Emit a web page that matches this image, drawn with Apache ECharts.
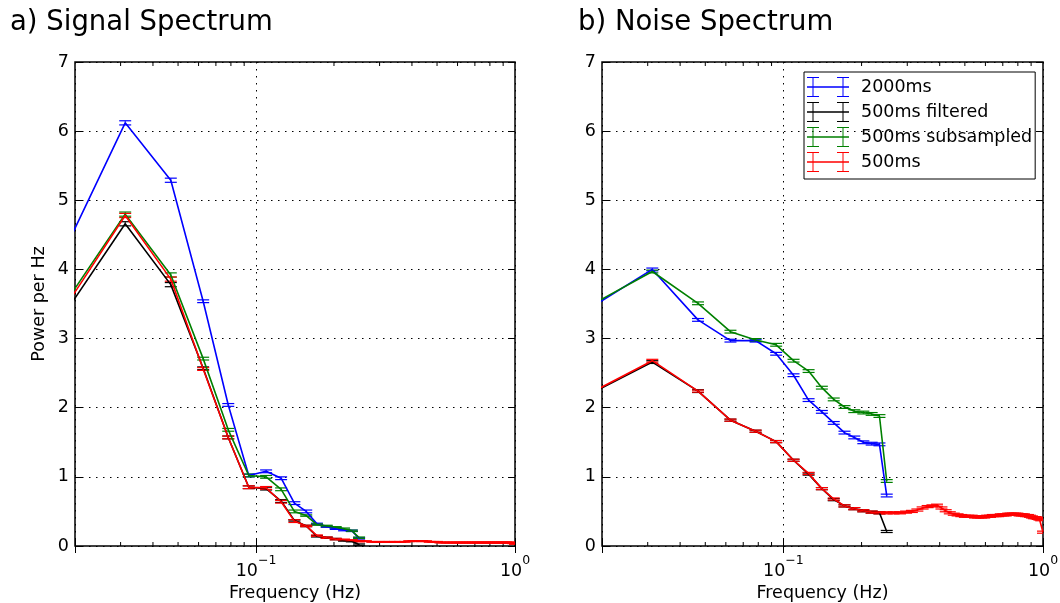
<!DOCTYPE html>
<html><head><meta charset="utf-8">
<script src="https://cdn.jsdelivr.net/npm/echarts@6/dist/echarts.min.js"></script>
<style>html,body{margin:0;padding:0;background:#fff}#c{width:1060px;height:603px}</style>
</head><body><div id="c"></div>
<script>
// Frequencies (Hz)
const freq = [
  0.015625, 0.03125, 0.046875, 0.0625, 0.078125, 0.09375, 0.109375, 0.125,
  0.140625, 0.15625, 0.171875, 0.1875, 0.203125, 0.21875, 0.234375, 0.25,
  0.265625, 0.28125, 0.296875, 0.3125, 0.328125, 0.34375, 0.359375, 0.375,
  0.390625, 0.40625, 0.421875, 0.4375, 0.453125, 0.46875, 0.484375, 0.5,
  0.515625, 0.53125, 0.546875, 0.5625, 0.578125, 0.59375, 0.609375, 0.625,
  0.640625, 0.65625, 0.671875, 0.6875, 0.703125, 0.71875, 0.734375, 0.75,
  0.765625, 0.78125, 0.796875, 0.8125, 0.828125, 0.84375, 0.859375, 0.875,
  0.890625, 0.90625, 0.921875, 0.9375, 0.953125, 0.96875, 0.984375, 1.0
];
const freqShort = [
  0.015625, 0.03125, 0.046875, 0.0625, 0.078125, 0.09375, 0.109375, 0.125,
  0.140625, 0.15625, 0.171875, 0.1875, 0.203125, 0.21875, 0.234375, 0.25
];
const seriesNames = ['2000ms', '500ms filtered', '500ms subsampled', '500ms'];

// a) Signal spectrum
const signal2000 = [3.75, 6.12, 5.29, 3.54, 2.04, 1.02, 1.08, 0.98, 0.62, 0.50, 0.32, 0.28, 0.25, 0.23, 0.22, 0.11];
const signal2000Err = [0.03, 0.03, 0.03, 0.02, 0.02, 0.02, 0.02, 0.02, 0.02, 0.02, 0.01, 0.01, 0.01, 0.01, 0.01, 0.01];
const signalFiltered = [2.99, 4.66, 3.78, 2.57, 1.57, 0.85, 0.83, 0.65, 0.37, 0.29, 0.14, 0.12, 0.10, 0.08, 0.07, 0.02];
const signalFilteredErr = [0.03, 0.03, 0.03, 0.02, 0.02, 0.02, 0.02, 0.02, 0.01, 0.01, 0.01, 0.01, 0.01, 0.01, 0.01, 0.01];
const signalSub = [3.13, 4.80, 3.92, 2.71, 1.68, 1.02, 1.00, 0.82, 0.50, 0.44, 0.31, 0.29, 0.27, 0.25, 0.22, 0.12];
const signalSubErr = [0.03, 0.03, 0.03, 0.02, 0.02, 0.02, 0.02, 0.02, 0.02, 0.01, 0.01, 0.01, 0.01, 0.01, 0.01, 0.01];
const signal500 = [
  3.06, 4.78, 3.86, 2.56, 1.57, 0.85, 0.84, 0.64,
  0.36, 0.29, 0.15, 0.12, 0.10, 0.09, 0.08, 0.07,
  0.07, 0.06, 0.06, 0.06, 0.06, 0.06, 0.06, 0.06,
  0.07, 0.07, 0.07, 0.07, 0.07, 0.06, 0.06, 0.06,
  0.05, 0.05, 0.05, 0.05, 0.05, 0.05, 0.05, 0.05,
  0.05, 0.05, 0.05, 0.05, 0.05, 0.05, 0.05, 0.05,
  0.05, 0.05, 0.05, 0.05, 0.05, 0.05, 0.05, 0.05,
  0.05, 0.05, 0.05, 0.05, 0.05, 0.05, 0.04, 0.03
];
const signal500Err = [
  0.03, 0.03, 0.03, 0.02, 0.02, 0.02, 0.02, 0.02,
  0.02, 0.01, 0.01, 0.01, 0.01, 0.01, 0.01, 0.01,
  0.005, 0.005, 0.005, 0.005, 0.005, 0.005, 0.005, 0.005,
  0.005, 0.005, 0.005, 0.005, 0.005, 0.005, 0.005, 0.005,
  0.005, 0.005, 0.005, 0.005, 0.005, 0.005, 0.005, 0.005,
  0.005, 0.005, 0.005, 0.005, 0.005, 0.005, 0.005, 0.005,
  0.005, 0.005, 0.005, 0.005, 0.005, 0.005, 0.005, 0.005,
  0.005, 0.005, 0.005, 0.005, 0.005, 0.005, 0.005, 0.005
];

// b) Noise spectrum
const noise2000 = [3.30, 4.00, 3.27, 2.97, 2.97, 2.78, 2.47, 2.11, 1.94, 1.78, 1.64, 1.57, 1.50, 1.48, 1.47, 0.73];
const noise2000Err = [0.02, 0.02, 0.02, 0.02, 0.02, 0.02, 0.02, 0.02, 0.02, 0.02, 0.02, 0.02, 0.02, 0.02, 0.02, 0.02];
const noiseFiltered = [2.08, 2.66, 2.24, 1.82, 1.66, 1.51, 1.24, 1.04, 0.83, 0.67, 0.58, 0.54, 0.51, 0.49, 0.48, 0.21];
const noiseFilteredErr = [0.02, 0.02, 0.02, 0.015, 0.015, 0.015, 0.015, 0.015, 0.015, 0.015, 0.015, 0.015, 0.015, 0.015, 0.015, 0.015];
const noiseSub = [3.35, 3.97, 3.51, 3.10, 2.98, 2.91, 2.68, 2.53, 2.29, 2.12, 2.01, 1.95, 1.93, 1.91, 1.88, 0.94];
const noiseSubErr = [0.02, 0.02, 0.02, 0.02, 0.02, 0.02, 0.02, 0.02, 0.02, 0.02, 0.02, 0.02, 0.02, 0.02, 0.02, 0.02];
const noise500 = [
  2.09, 2.68, 2.24, 1.82, 1.66, 1.51, 1.24, 1.05,
  0.83, 0.68, 0.58, 0.54, 0.51, 0.49, 0.48, 0.48,
  0.48, 0.48, 0.49, 0.50, 0.52, 0.55, 0.57, 0.58,
  0.59, 0.55, 0.51, 0.48, 0.46, 0.45, 0.44, 0.43,
  0.43, 0.43, 0.42, 0.42, 0.42, 0.42, 0.43, 0.43,
  0.44, 0.44, 0.44, 0.45, 0.45, 0.45, 0.46, 0.46,
  0.46, 0.46, 0.46, 0.45, 0.45, 0.45, 0.44, 0.44,
  0.43, 0.42, 0.41, 0.41, 0.40, 0.39, 0.38, 0.20
];
const noise500Err = [
  0.02, 0.02, 0.015, 0.015, 0.015, 0.015, 0.015, 0.015,
  0.015, 0.015, 0.015, 0.015, 0.015, 0.015, 0.015, 0.015,
  0.015, 0.015, 0.015, 0.015, 0.015, 0.015, 0.015, 0.015,
  0.015, 0.015, 0.015, 0.015, 0.015, 0.015, 0.015, 0.015,
  0.015, 0.015, 0.015, 0.015, 0.015, 0.015, 0.015, 0.015,
  0.015, 0.015, 0.015, 0.015, 0.015, 0.015, 0.015, 0.015,
  0.015, 0.015, 0.015, 0.015, 0.015, 0.015, 0.015, 0.015,
  0.015, 0.015, 0.015, 0.015, 0.015, 0.015, 0.015, 0.015
];

const minorTickValues = [0.03, 0.04, 0.05, 0.06, 0.07, 0.08, 0.09, 0.2, 0.3, 0.4, 0.5, 0.6, 0.7, 0.8, 0.9];
const yMin = 0, yMax = 7, yStep = 1;
const xMin = 0.02, xMax = 1;

const FONT = 'DejaVu Sans';
const FS = 17.5;
const COLORS = ['#0000ff', '#000000', '#008000', '#ff0000'];

function errorBarSeries(gi, name, color, xs, ys, es) {
  return {
    type: 'custom', name: name, xAxisIndex: gi * 2, yAxisIndex: gi * 2,
    clip: true, silent: true, animation: false,
    itemStyle: { color: color, borderWidth: 0 },
    encode: { x: 0, y: 1 },
    data: xs.map((x, i) => [x, ys[i], es[i]]),
    renderItem: function (params, api) {
      const x = api.value(0), y = api.value(1), e = api.value(2);
      const t = api.coord([x, y + e]);
      const b = api.coord([x, y - e]);
      const hw = 6;
      return {
        type: 'group', children: [
          { type: 'line', shape: { x1: t[0], y1: t[1], x2: b[0], y2: b[1] }, style: { stroke: color, lineWidth: 1 } },
          { type: 'line', shape: { x1: t[0] - hw, y1: t[1], x2: t[0] + hw, y2: t[1] }, style: { stroke: color, lineWidth: 1.2 } },
          { type: 'line', shape: { x1: b[0] - hw, y1: b[1], x2: b[0] + hw, y2: b[1] }, style: { stroke: color, lineWidth: 1.2 } }
        ]
      };
    }
  };
}
function lineSeries(gi, name, color, xs, ys) {
  return {
    type: 'line', name: name, xAxisIndex: gi * 2, yAxisIndex: gi * 2,
    clip: true, silent: true, animation: false, symbol: 'none', showSymbol: false,
    lineStyle: { color: color, width: 1.6 }, itemStyle: { color: color },
    data: xs.map((x, i) => [x, ys[i]])
  };
}
function minorTickSeries(gi) {
  return {
    type: 'custom', xAxisIndex: gi * 2, yAxisIndex: gi * 2, silent: true, animation: false,
    encode: { x: 0 },
    data: minorTickValues.map(v => [v]),
    renderItem: function (params, api) {
      const v = api.value(0);
      const b = api.coord([v, yMin]);
      const t = api.coord([v, yMax]);
      return {
        type: 'group', children: [
          { type: 'line', shape: { x1: b[0], y1: b[1], x2: b[0], y2: b[1] - 4 }, style: { stroke: '#000', lineWidth: 1 } },
          { type: 'line', shape: { x1: t[0], y1: t[1], x2: t[0], y2: t[1] + 4 }, style: { stroke: '#000', lineWidth: 1 } }
        ]
      };
    }
  };
}

const panels = [
  { xs: [freqShort, freqShort, freqShort, freq], ys: [signal2000, signalFiltered, signalSub, signal500], es: [signal2000Err, signalFilteredErr, signalSubErr, signal500Err] },
  { xs: [freqShort, freqShort, freqShort, freq], ys: [noise2000, noiseFiltered, noiseSub, noise500], es: [noise2000Err, noiseFilteredErr, noiseSubErr, noise500Err] }
];

const series = [];
panels.forEach((p, gi) => {
  series.push(minorTickSeries(gi));
  for (let s = 0; s < 4; s++) {
    series.push(errorBarSeries(gi, seriesNames[s], COLORS[s], p.xs[s], p.ys[s], p.es[s]));
    series.push(lineSeries(gi, seriesNames[s], COLORS[s], p.xs[s], p.ys[s]));
  }
});

const dotted = { color: '#000', width: 1, type: [1.5, 5.5] };
function xAxisBottom(gi) {
  return {
    type: 'log', logBase: 10, gridIndex: gi, min: xMin, max: xMax, position: 'bottom',
    name: 'Frequency (Hz)', nameLocation: 'middle', nameGap: 35,
    nameTextStyle: { fontSize: FS, color: '#000', fontFamily: FONT },
    axisLine: { show: false },
    axisTick: { show: true, inside: true, length: 7, lineStyle: { color: '#000', width: 1 } },
    splitLine: { show: true, lineStyle: dotted },
    axisLabel: {
      margin: 8, color: '#000', fontFamily: FONT, fontSize: FS,
      formatter: function (v) {
        const e = Math.round(Math.log10(v));
        if (Math.abs(Math.log10(v) - e) > 1e-6) return '';
        return '{b|10}{s|' + (e < 0 ? '\u2212' + (-e) : e) + '}';
      },
      rich: {
        b: { fontSize: FS, fontFamily: FONT, color: '#000', verticalAlign: 'bottom' },
        s: { fontSize: 12.5, fontFamily: FONT, color: '#000', verticalAlign: 'bottom', padding: [0, 0, 13, 0] }
      }
    }
  };
}
function xAxisTop(gi) {
  return {
    type: 'log', logBase: 10, gridIndex: gi, min: xMin, max: xMax, position: 'top',
    axisLine: { show: false }, axisLabel: { show: false }, splitLine: { show: false },
    axisTick: { show: true, inside: true, length: 7, lineStyle: { color: '#000', width: 1 } }
  };
}
function yAxisLeft(gi) {
  const ax = {
    type: 'value', gridIndex: gi, min: yMin, max: yMax, interval: yStep, position: 'left',
    axisLine: { show: false },
    axisTick: { show: true, inside: true, length: 7, lineStyle: { color: '#000', width: 1 } },
    splitLine: { show: true, lineStyle: dotted },
    axisLabel: { margin: 6, color: '#000', fontFamily: FONT, fontSize: FS }
  };
  if (gi === 0) {
    ax.name = 'Power per Hz'; ax.nameLocation = 'middle'; ax.nameGap = 27;
    ax.nameTextStyle = { fontSize: FS, color: '#000', fontFamily: FONT };
  }
  return ax;
}
function yAxisRight(gi) {
  return {
    type: 'value', gridIndex: gi, min: yMin, max: yMax, interval: yStep, position: 'right',
    axisLine: { show: false }, axisLabel: { show: false }, splitLine: { show: false },
    axisTick: { show: true, inside: true, length: 7, lineStyle: { color: '#000', width: 1 } }
  };
}

const legendIcon = 'path://M0,9.2L42,9.2L42,10.8L0,10.8Z M5.5,0L6.5,0L6.5,20L5.5,20Z M0,0L12,0L12,1L0,1Z M0,19L12,19L12,20L0,20Z M35.5,0L36.5,0L36.5,20L35.5,20Z M30,0L42,0L42,1L30,1Z M30,19L42,19L42,20L30,20Z';

const chart = echarts.init(document.getElementById('c'), null, { renderer: 'canvas', width: 1060, height: 603 });
chart.setOption({
  backgroundColor: '#fff',
  animation: false,
  textStyle: { fontFamily: FONT },
  title: [
    { text: 'a) Signal Spectrum', left: 10, top: 9, padding: 0, textStyle: { fontSize: 27.5, fontWeight: 'normal', color: '#000', fontFamily: FONT } },
    { text: 'b) Noise Spectrum', left: 578, top: 9, padding: 0, textStyle: { fontSize: 27.5, fontWeight: 'normal', color: '#000', fontFamily: FONT } }
  ],
  legend: {
    data: seriesNames.map(n => ({ name: n, icon: legendIcon })),
    orient: 'vertical', left: 804, top: 72,
    itemWidth: 42, itemHeight: 20, itemGap: 5,
    padding: [5, 3, 7, 3],
    borderColor: '#000', borderWidth: 1, backgroundColor: 'transparent',
    selectedMode: false,
    textStyle: { fontSize: FS, color: '#000', fontFamily: FONT, padding: [0, 0, 0, 7] }
  },
  grid: [
    { left: 75, top: 62, width: 440, height: 484, show: true, borderColor: '#000', borderWidth: 1.5, backgroundColor: 'transparent', containLabel: false, outerBoundsMode: 'none' },
    { left: 602, top: 62, width: 441, height: 484, show: true, borderColor: '#000', borderWidth: 1.5, backgroundColor: 'transparent', containLabel: false, outerBoundsMode: 'none' }
  ],
  xAxis: [xAxisBottom(0), xAxisTop(0), xAxisBottom(1), xAxisTop(1)],
  yAxis: [yAxisLeft(0), yAxisRight(0), yAxisLeft(1), yAxisRight(1)],
  series: series
});
</script>
</body></html>
